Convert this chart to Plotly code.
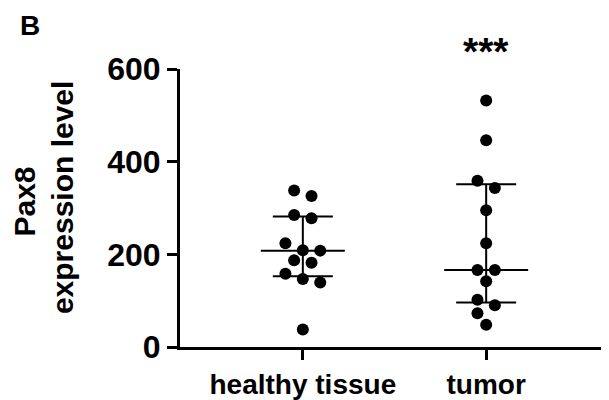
import numpy as np
import plotly.graph_objects as go

# ---------------- data ----------------
categories = ["healthy tissue", "tumor"]
healthy_values = [338, 326, 285, 278, 224, 209, 208, 187, 182, 158, 147, 139, 38]
tumor_values = [532, 446, 359, 343, 295, 224, 166, 166, 142, 102, 90, 73, 48]
y_ticks = [0, 200, 400, 600]
significance = ["", "***"]
y_title_lines = ["Pax8", "expression level"]
panel_label = "B"

# ---------------- layout params ----------------
# the page body adds an 8px margin, so the figure is 8px smaller and everything is offset
PAD = 8
W, H = 609 - PAD, 400 - PAD
M = dict(l=180 - PAD, r=0, t=69 - PAD, b=50)
y_range = [0, 600]
x_range = [-0.67, 1.67]
marker_d = 12
FONT = "Liberation Sans, Arial, sans-serif"

plot_w = W - M["l"] - M["r"]
plot_h = H - M["t"] - M["b"]
kx = plot_w / (x_range[1] - x_range[0])   # px per category unit
ky = plot_h / (y_range[1] - y_range[0])   # px per value unit
plot_bottom = PAD + M["t"] + plot_h      # screen px of the value 0


def swarm_offsets(values, step_px=8.7, min_dist=12.0, gap_px=7.5):
    """Deterministic beeswarm: cluster close values, spread symmetrically, push out on collision."""
    ypx = np.asarray(values, float) * ky
    order = np.argsort(-ypx, kind="stable")
    clusters = []
    for idx in order:
        if clusters and ypx[clusters[-1][-1]] - ypx[idx] < gap_px:
            clusters[-1].append(idx)
        else:
            clusters.append([idx])
    placed = []
    off = np.zeros(len(values))

    def free(xo, yo):
        return all((xo - px) ** 2 + (yo - py) ** 2 >= min_dist ** 2 for px, py in placed)

    for cl in clusters:
        n = len(cl)
        for i, idx in enumerate(cl):
            b = (i - (n - 1) / 2) * 2
            if b == 0:
                cands = [0]
                for k in range(1, 12):
                    cands += [-k, k]
            else:
                s = np.sign(b)
                cands = [b + s * k for k in range(12)]
            for c in cands:
                if free(c * step_px, ypx[idx]):
                    break
            off[idx] = c * step_px / kx
            placed.append((c * step_px, ypx[idx]))
    return off


def paper_x(px):
    return (px - PAD - M["l"]) / plot_w


def paper_y(py):
    return (plot_bottom - py) / plot_h


fig = go.Figure()
groups = [healthy_values, tumor_values]
for gi, vals in enumerate(groups):
    vals = np.asarray(vals, float)
    xs = gi + swarm_offsets(vals)
    fig.add_trace(go.Scatter(
        x=xs, y=vals, mode="markers",
        marker=dict(color="black", size=marker_d, line=dict(width=0)),
        showlegend=False, hoverinfo="y"))
    q1, med, q3 = np.percentile(vals, [25, 50, 75], method="weibull")
    fig.add_trace(go.Scatter(
        x=[gi], y=[med], mode="markers",
        marker=dict(symbol="line-ew", size=60, color="black",
                    line=dict(color="black", width=2)),
        error_y=dict(type="data", symmetric=False, array=[q3 - med],
                     arrayminus=[med - q1], width=30, thickness=2, color="black"),
        showlegend=False, hoverinfo="skip"))
    if significance[gi]:
        fig.add_annotation(x=gi, y=paper_y(51), xref="x", yref="paper",
                           text=significance[gi], showarrow=False,
                           xanchor="center", yanchor="middle",
                           font=dict(family=FONT, size=39, color="black", weight="bold"))

# y-axis title: two rotated lines
for text, cx, cy in [(y_title_lines[0], 24.5, 203.5), (y_title_lines[1], 62, 199.5)]:
    fig.add_annotation(x=paper_x(cx), y=paper_y(cy),
                       xref="paper", yref="paper", text=text,
                       textangle=-90, showarrow=False, xanchor="center", yanchor="middle",
                       font=dict(family=FONT, size=30, color="black", weight="bold"))

fig.add_annotation(x=paper_x(18), y=paper_y(25),
                   xref="paper", yref="paper", text=panel_label, showarrow=False,
                   xanchor="left", yanchor="middle",
                   font=dict(family=FONT, size=28, color="black", weight="bold"))

fig.update_layout(
    width=W, height=H, margin=M, paper_bgcolor="white", plot_bgcolor="white",
    showlegend=False,
    xaxis=dict(range=x_range, tickmode="array", tickvals=[0, 1], ticktext=categories,
               showline=True, linecolor="black", linewidth=3, ticks="outside",
               ticklen=10, tickwidth=3, tickcolor="black", showgrid=False, zeroline=False,
               tickfont=dict(family=FONT, size=28, color="black", weight="bold")),
    yaxis=dict(range=y_range, tickmode="array", tickvals=y_ticks,
               showline=True, linecolor="black", linewidth=3, ticks="outside",
               ticklen=10, tickwidth=3, tickcolor="black", showgrid=False, zeroline=False,
               tickfont=dict(family=FONT, size=32, color="black", weight="bold")),
)

fig.write_html("out.html")
